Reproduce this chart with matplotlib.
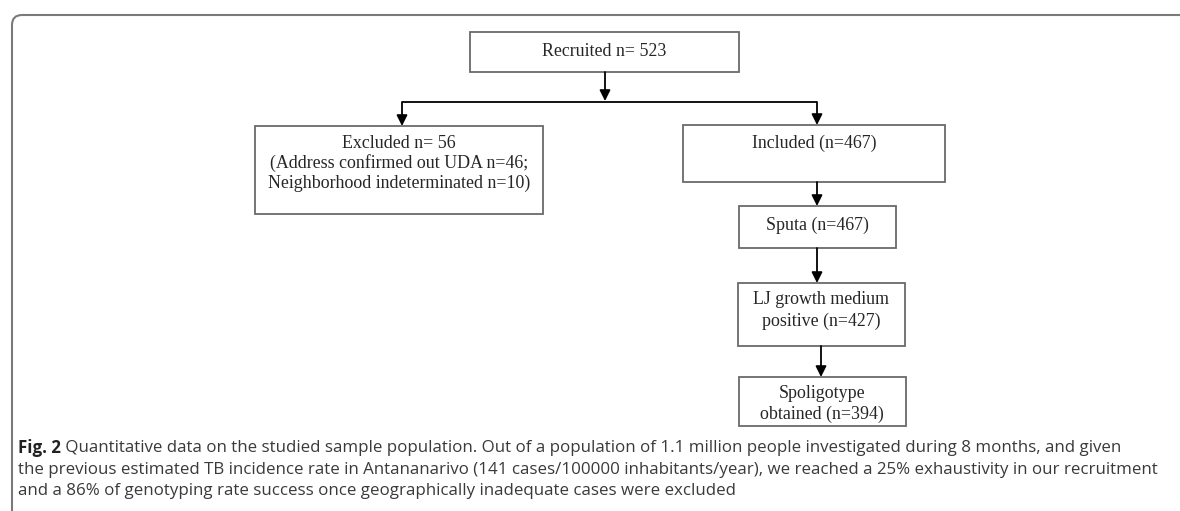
import matplotlib.pyplot as plt
from matplotlib.patches import FancyBboxPatch, Rectangle

# flowchart content
stage_labels = ['Recruited', 'Excluded', 'Included', 'Sputa',
                'LJ growth medium\npositive', 'Spoligotype\nobtained']
stage_counts = [523, 56, 467, 467, 427, 394]
excluded_detail = ['Address confirmed out UDA', 'Neighborhood indeterminated']
excluded_counts = [46, 10]

caption_head = 'Fig. 2'
caption_lines = [
    ' Quantitative data on the studied sample population. Out of a population of 1.1 million people investigated during 8 months, and given',
    'the previous estimated TB incidence rate in Antananarivo (141 cases/100000 inhabitants/year), we reached a 25% exhaustivity in our recruitment',
    'and a 86% of genotyping rate success once geographically inadequate cases were excluded',
]

fig = plt.figure(figsize=(11.8, 5.11), dpi=100)
ax = fig.add_axes([0, 0, 1, 1])
ax.set_xlim(0, 1180)
ax.set_ylim(511, 0)
ax.axis('off')

# outer frame
ax.add_patch(FancyBboxPatch((12, 15), 1200, 540, boxstyle='round,pad=0,rounding_size=10',
                            fill=False, ec='#7a7a7a', lw=1.5))

serif = 'Liberation Serif'
tcol = '#262626'
fs = 12.9


def box(x0, y0, x1, y1):
    ax.add_patch(Rectangle((x0, y0), x1 - x0, y1 - y0, fill=False, ec='#6a6a6a', lw=1.3))


def label(x, y, s):
    ax.text(x, y, s, family=serif, fontsize=fs, color=tcol, ha='center', va='center')


def arrow(x, y0, y1):
    ax.annotate('', xy=(x, y1), xytext=(x, y0),
                arrowprops=dict(arrowstyle='-|>', color='black', lw=1.3,
                                mutation_scale=16, shrinkA=0, shrinkB=0))


# boxes
box(470, 32, 739, 72)
label(604, 52, f'{stage_labels[0]} n= {stage_counts[0]}')

box(255, 126, 543, 214)
label(399, 143, f'{stage_labels[1]} n= {stage_counts[1]}')
label(399, 163, f'({excluded_detail[0]} n={excluded_counts[0]};')
label(399, 183, f'{excluded_detail[1]} n={excluded_counts[1]})')

box(683, 125, 945, 182)
label(814, 143, f'{stage_labels[2]} (n={stage_counts[2]})')

box(739, 206, 896, 248)
label(817, 225, f'{stage_labels[3]} (n={stage_counts[3]})')

box(738, 283, 905, 346)
l1, l2 = stage_labels[4].split('\n')
label(821, 300, l1)
label(821, 321, f'{l2} (n={stage_counts[4]})')

box(739, 377, 906, 426)
l1, l2 = stage_labels[5].split('\n')
label(822, 394, l1)
label(822, 414, f'{l2} (n={stage_counts[5]})')

# connectors
arrow(605, 72, 101)
ax.plot([402, 817], [102, 102], color='black', lw=1.3, solid_capstyle='butt')
arrow(402, 102, 126)
arrow(817, 102, 125)
arrow(817, 182, 206)
arrow(817, 248, 283)
arrow(821, 346, 377)

# caption
cap_font = 'Open Sans'
cfs = 12.2
ccol = '#3a3a3a'
head = ax.text(18, 448, caption_head, family=cap_font, fontsize=cfs, fontweight='bold',
               color='#222222', ha='left', va='center')
fig.canvas.draw()
bb = head.get_window_extent()
ax.text(18 + bb.width, 448, caption_lines[0], family=cap_font, fontsize=cfs, color=ccol,
        ha='left', va='center')
for i, line in enumerate(caption_lines[1:], start=1):
    ax.text(18, 448 + 21.5 * i, line, family=cap_font, fontsize=cfs, color=ccol,
            ha='left', va='center')

fig.savefig('out.png', dpi=100, facecolor='white')
